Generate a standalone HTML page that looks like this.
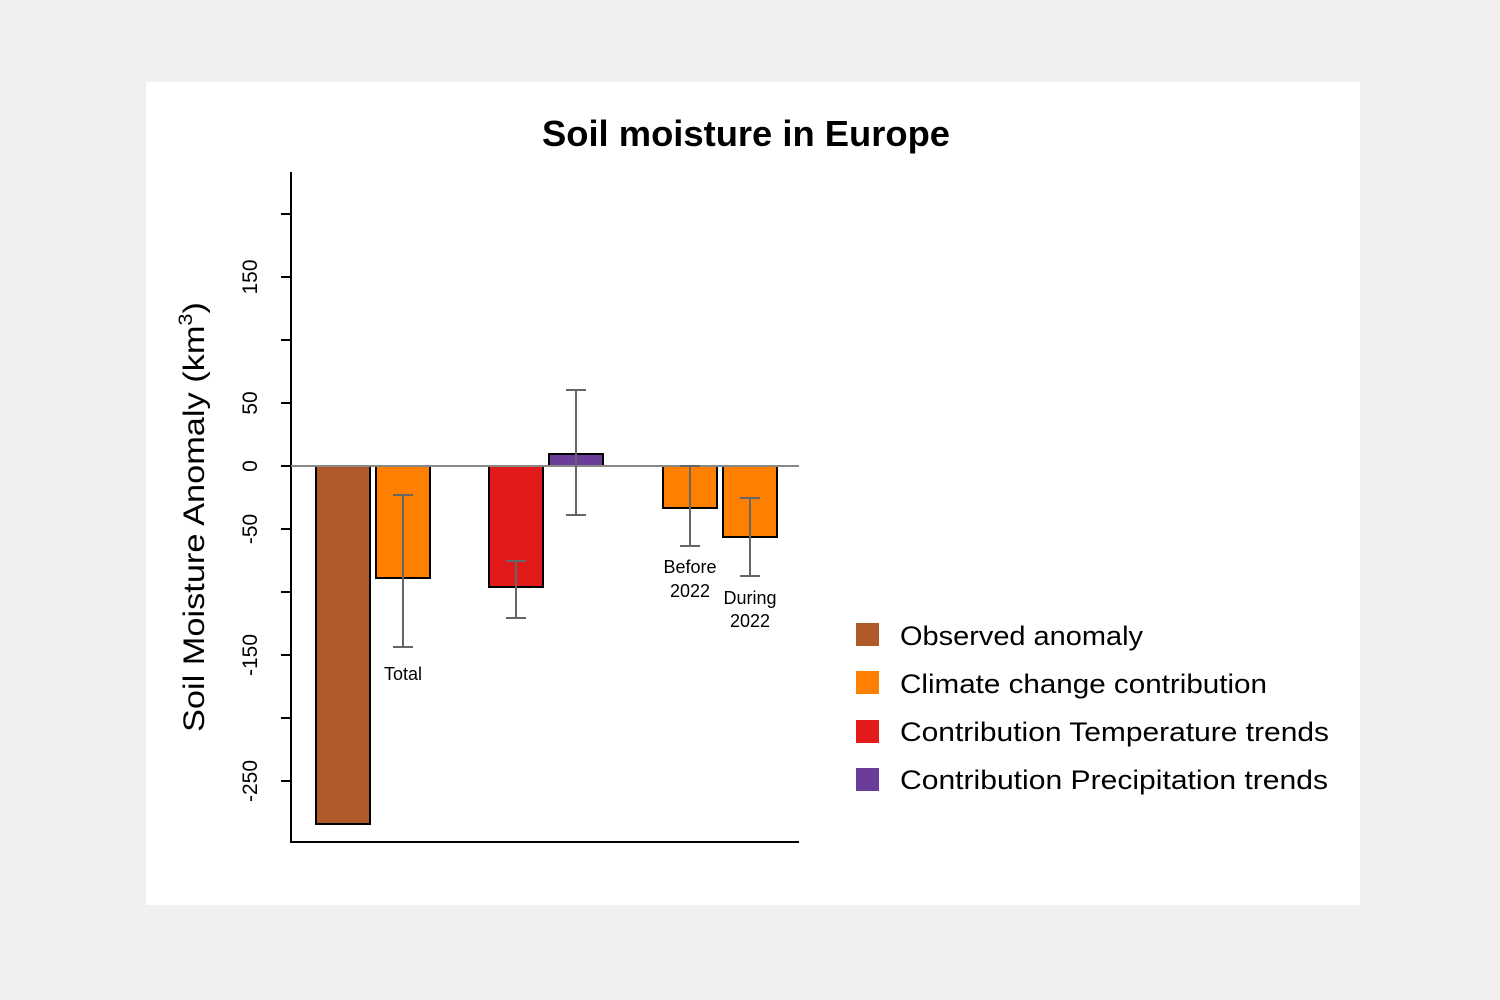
<!DOCTYPE html>
<html><head><meta charset="utf-8"><style>
html,body{margin:0;padding:0;background:#f0f0f0;}
svg{display:block;}
text{font-family:"Liberation Sans",sans-serif;}
</style></head><body>
<svg width="1500" height="1000" xmlns="http://www.w3.org/2000/svg">
<rect x="0" y="0" width="1500" height="1000" fill="#f0f0f0"/>
<rect x="146" y="82" width="1214" height="823" fill="#fff"/>
<text x="746" y="146" font-size="36" font-weight="bold" text-anchor="middle" textLength="408" lengthAdjust="spacingAndGlyphs">Soil moisture in Europe</text>
<!-- axes -->
<line x1="291" y1="172" x2="291" y2="842" stroke="#000" stroke-width="2"/>
<line x1="290" y1="842" x2="799" y2="842" stroke="#000" stroke-width="2"/>
<g stroke="#000" stroke-width="2">
<line x1="281" y1="214" x2="291" y2="214"/><line x1="281" y1="277" x2="291" y2="277"/>
<line x1="281" y1="340" x2="291" y2="340"/><line x1="281" y1="403" x2="291" y2="403"/>
<line x1="281" y1="466" x2="291" y2="466"/><line x1="281" y1="529" x2="291" y2="529"/>
<line x1="281" y1="592" x2="291" y2="592"/><line x1="281" y1="655" x2="291" y2="655"/>
<line x1="281" y1="718" x2="291" y2="718"/><line x1="281" y1="781" x2="291" y2="781"/>
</g>
<g font-size="21" text-anchor="middle">
<text transform="translate(257,277) rotate(-90)">150</text>
<text transform="translate(257,403) rotate(-90)">50</text>
<text transform="translate(257,466) rotate(-90)">0</text>
<text transform="translate(257,529) rotate(-90)">-50</text>
<text transform="translate(257,655) rotate(-90)">-150</text>
<text transform="translate(257,781) rotate(-90)">-250</text>
</g>
<text transform="translate(204,517) rotate(-90)" font-size="30" text-anchor="middle" textLength="430" lengthAdjust="spacingAndGlyphs">Soil Moisture Anomaly (km<tspan font-size="19" dy="-12">3</tspan><tspan dy="12">)</tspan></text>
<!-- bars -->
<g stroke="#000" stroke-width="2">
<rect x="316" y="466" width="54" height="358" fill="#b05a2a"/>
<rect x="376" y="466" width="54" height="112" fill="#ff7f00"/>
<rect x="489" y="466" width="54" height="121" fill="#e31a1c"/>
<rect x="549" y="454" width="54" height="12" fill="#6a3d9a"/>
<rect x="663" y="466" width="54" height="42" fill="#ff7f00"/>
<rect x="723" y="466" width="54" height="71" fill="#ff7f00"/>
</g>
<line x1="291" y1="466" x2="799" y2="466" stroke="#888" stroke-width="2"/>
<g stroke="#666" stroke-width="2">
<line x1="403" y1="495" x2="403" y2="647"/><line x1="393" y1="495" x2="413" y2="495"/><line x1="393" y1="647" x2="413" y2="647"/>
<line x1="516" y1="561" x2="516" y2="618"/><line x1="506" y1="561" x2="526" y2="561"/><line x1="506" y1="618" x2="526" y2="618"/>
<line x1="576" y1="390" x2="576" y2="515"/><line x1="566" y1="390" x2="586" y2="390"/><line x1="566" y1="515" x2="586" y2="515"/>
<line x1="690" y1="466" x2="690" y2="546"/><line x1="680" y1="466" x2="700" y2="466"/><line x1="680" y1="546" x2="700" y2="546"/>
<line x1="750" y1="498" x2="750" y2="576"/><line x1="740" y1="498" x2="760" y2="498"/><line x1="740" y1="576" x2="760" y2="576"/>
</g>
<g font-size="18" text-anchor="middle">
<text x="403" y="680">Total</text>
<text x="690" y="573">Before</text><text x="690" y="597">2022</text>
<text x="750" y="604">During</text><text x="750" y="627">2022</text>
</g>
<!-- legend -->
<rect x="856" y="623" width="23" height="23" fill="#b05a2a"/>
<rect x="856" y="671" width="23" height="23" fill="#ff7f00"/>
<rect x="856" y="720" width="23" height="23" fill="#e31a1c"/>
<rect x="856" y="768" width="23" height="23" fill="#6a3d9a"/>
<g font-size="27">
<text x="900" y="645" textLength="243" lengthAdjust="spacingAndGlyphs">Observed anomaly</text>
<text x="900" y="693" textLength="367" lengthAdjust="spacingAndGlyphs">Climate change contribution</text>
<text x="900" y="741" textLength="429" lengthAdjust="spacingAndGlyphs">Contribution Temperature trends</text>
<text x="900" y="789" textLength="428" lengthAdjust="spacingAndGlyphs">Contribution Precipitation trends</text>
</g>
</svg>
</body></html>
